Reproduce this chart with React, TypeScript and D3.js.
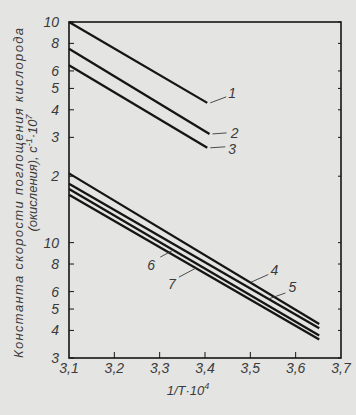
import React from "react";
import * as d3 from "d3";

const lineIds = ["1", "2", "3", "4", "5", "6", "7"];
const xStart = [3.1, 3.1, 3.1, 3.1, 3.1, 3.1, 3.1];
const xEnd = [3.405, 3.41, 3.405, 3.652, 3.652, 3.652, 3.652];
const yStart = [10, 7.57, 6.37, 2.06, 1.85, 1.75, 1.65];
const yEnd = [4.3, 3.11, 2.69, 0.428, 0.409, 0.379, 0.364];
// x position (data units) on each line where the label leader attaches
const labelAt = [3.405, 3.41, 3.405, 3.5, 3.54, 3.33, 3.38];

const xTicks = [3.1, 3.2, 3.3, 3.4, 3.5, 3.6, 3.7];
const xTickLabels = ["3,1", "3,2", "3,3", "3,4", "3,5", "3,6", "3,7"];
const yTicks = [10, 8, 6, 5, 4, 3, 2, 1, 0.8, 0.6, 0.5, 0.4, 0.3];
const yTickLabels = ["10", "8", "6", "5", "4", "3", "2", "10", "8", "6", "5", "4", "3"];

const yTitle1 = "Константа скорости поглощения кислорода";
const yTitle2 = "(окисления), с";

const W = 356, H = 415;
const L = 69, R = 341, T = 22, B = 358;
const ink = "#151515";
const txt = "#3a3a3a";
const font = "'Liberation Sans', Arial, sans-serif";

// label offsets (px) relative to leader attach point: [leaderEndDx, leaderEndDy, textDx, textDy]
const labelOffsets = [
  [19, -6, 25, -5],
  [17, -1, 25, 4],
  [18, -1, 25, 6],
  [18, -8, 24, -7],
  [17, -6, 24, -7],
  [-13, 7, -22, 20],
  [-17, 9, -24, 21],
];

export default function App() {
  const x = d3.scaleLinear().domain([3.1, 3.7]).range([L, R]);
  const y = d3.scaleLog().domain([0.3, 10]).range([B, T]);
  const lineGen = d3
    .line<[number, number]>()
    .x((d) => x(d[0]))
    .y((d) => y(d[1]));

  const valAt = (i: number, xv: number) => {
    const t = (xv - xStart[i]) / (xEnd[i] - xStart[i]);
    return Math.exp(Math.log(yStart[i]) + t * (Math.log(yEnd[i]) - Math.log(yStart[i])));
  };

  return (
    <svg
      width={W}
      height={H}
      style={{ position: "absolute", left: 0, top: 0, background: "#e4e4e2" }}
    >
      <rect x={0} y={0} width={W} height={H} fill="#e4e4e2" />
      {/* frame */}
      <rect x={L} y={T} width={R - L} height={B - T} fill="none" stroke={ink} strokeWidth={1.6} />
      {/* y ticks */}
      {yTicks.map((v, i) => (
        <g key={"yt" + i}>
          <line x1={L} x2={L + 5} y1={y(v)} y2={y(v)} stroke={ink} strokeWidth={1} />
          <line x1={R} x2={R - 3} y1={y(v)} y2={y(v)} stroke={ink} strokeWidth={1} />
          <text
            x={L - 10}
            y={y(v) + 5}
            textAnchor="end"
            fontFamily={font}
            fontStyle="italic"
            fontSize={14}
            fill={txt}
          >
            {yTickLabels[i]}
          </text>
        </g>
      ))}
      {/* x ticks */}
      {xTicks.map((v, i) => (
        <g key={"xt" + i}>
          {i > 0 && i < xTicks.length - 1 && (
            <line x1={x(v)} x2={x(v)} y1={B} y2={B - 6} stroke={ink} strokeWidth={1} />
          )}
          <text
            x={x(v)}
            y={B + 15}
            textAnchor="middle"
            fontFamily={font}
            fontStyle="italic"
            fontSize={14}
            fill={txt}
          >
            {xTickLabels[i]}
          </text>
        </g>
      ))}
      {/* lines */}
      {lineIds.map((id, i) => (
        <path
          key={"l" + id}
          d={lineGen([
            [xStart[i], yStart[i]],
            [xEnd[i], yEnd[i]],
          ]) || ""}
          fill="none"
          stroke={ink}
          strokeWidth={2.3}
        />
      ))}
      {/* labels */}
      {lineIds.map((id, i) => {
        const px = x(labelAt[i]);
        const py = y(valAt(i, labelAt[i]));
        const [lx, ly, tx, ty] = labelOffsets[i];
        const sx = i < 3 ? 3 : 0;
        return (
          <g key={"lab" + id}>
            <line x1={px + sx} y1={py} x2={px + lx} y2={py + ly} stroke={txt} strokeWidth={0.9} />
            <text
              x={px + tx}
              y={py + ty}
              textAnchor="middle"
              fontFamily={font}
              fontStyle="italic"
              fontSize={14}
              fill={txt}
            >
              {id}
            </text>
          </g>
        );
      })}
      {/* x title */}
      <text
        x={188}
        y={395}
        textAnchor="middle"
        fontFamily={font}
        fontStyle="italic"
        fontSize={13}
        fill={txt}
      >
        1/T·10<tspan dy={-6} fontSize={9}>4</tspan>
      </text>
      {/* y title */}
      <g transform="translate(23,193) rotate(-90)">
        <text
          x={0}
          y={0}
          textAnchor="middle"
          fontFamily={font}
          fontStyle="italic"
          fontSize={13}
          fill={txt}
          textLength={330}
          lengthAdjust="spacing"
        >
          {yTitle1}
        </text>
      </g>
      <g transform="translate(37,173) rotate(-90)">
        <text x={0} y={0} textAnchor="middle" fontFamily={font} fontStyle="italic" fontSize={13} fill={txt}>
          {yTitle2}
          <tspan dy={-5} fontSize={9}>-1</tspan>
          <tspan dy={5}>·10</tspan>
          <tspan dy={-5} fontSize={9}>7</tspan>
        </text>
      </g>
    </svg>
  );
}
